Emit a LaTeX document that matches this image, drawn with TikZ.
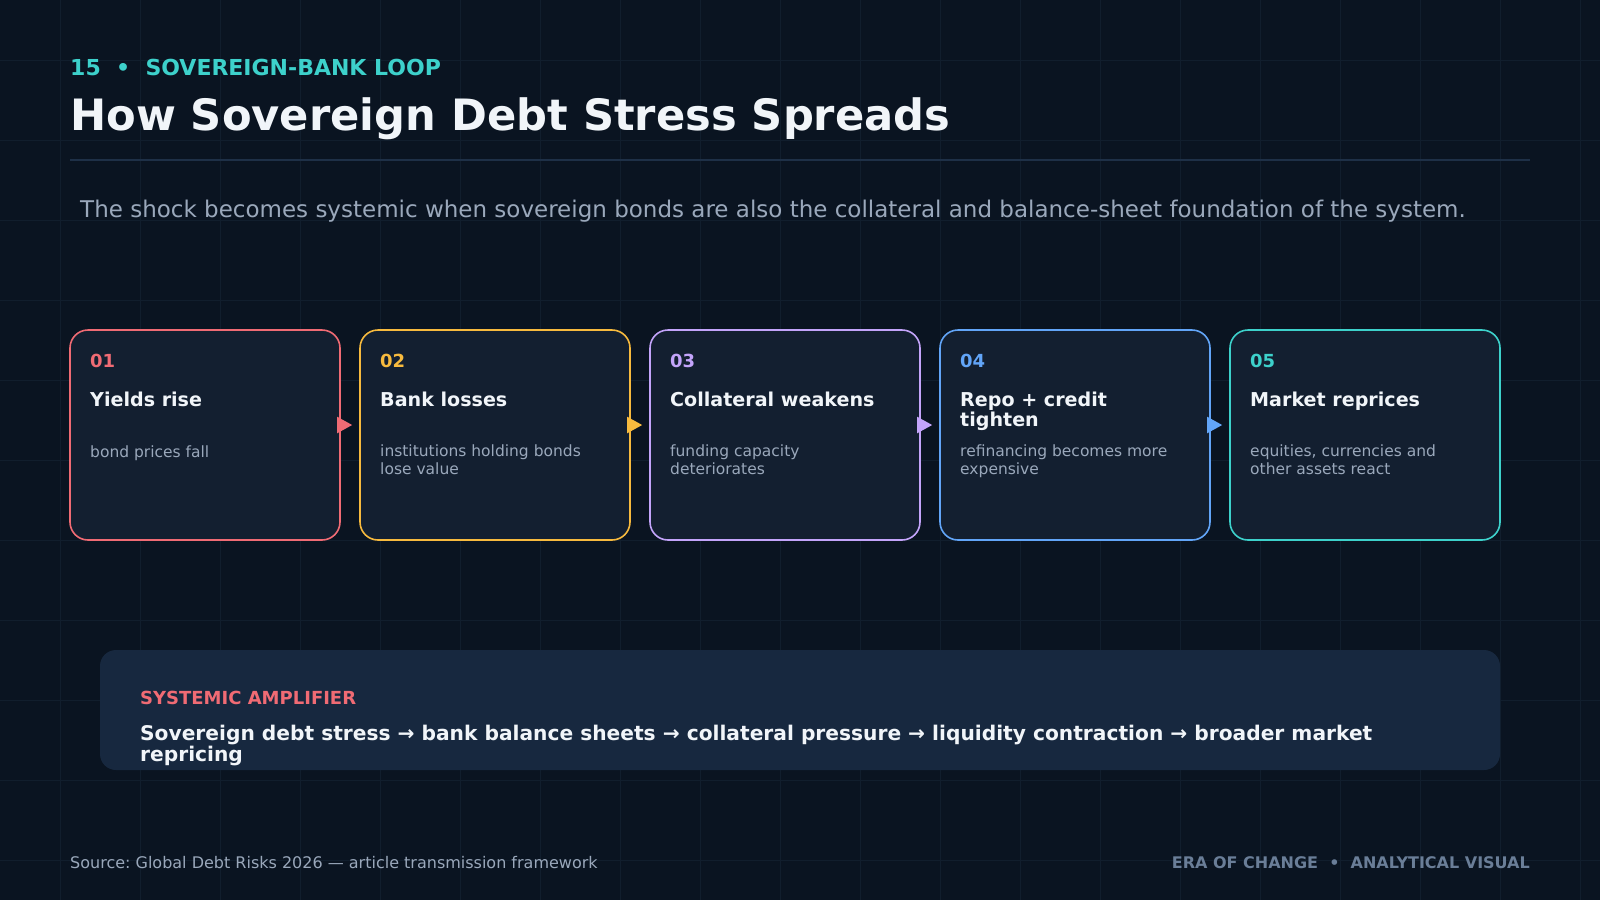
\documentclass[tikz,border=0pt]{standalone}
\usepackage{fontspec}
\setmainfont{DejaVu Sans}
\usetikzlibrary{positioning, arrows.meta}
\definecolor{bgnavy}{HTML}{0A1421}
\definecolor{gridnavy}{HTML}{111E2D}
\definecolor{cardfill}{HTML}{131F30}
\definecolor{panelfill}{HTML}{17283F}
\definecolor{rulenavy}{HTML}{1E3047}
\definecolor{inkwhite}{HTML}{F1F5F9}
\definecolor{inkgray}{HTML}{9AA8BB}
\definecolor{inkmuted}{HTML}{6A7E98}
\definecolor{accred}{HTML}{F06B74}
\definecolor{accamber}{HTML}{F7BA3E}
\definecolor{accviolet}{HTML}{C3A4FA}
\definecolor{accblue}{HTML}{62A5F8}
\definecolor{accteal}{HTML}{3DD1CB}
\tikzset{
    gridline/.style={draw=gridnavy, line width=1pt},
    card/.style={rectangle, draw, line width=1.6pt, fill=cardfill, rounded corners=18pt, minimum width=270pt, minimum height=210pt},
    card num/.style={anchor=base west, inner sep=0pt, font=\bfseries\fontsize{18}{22}\selectfont},
    card title/.style={anchor=north west, inner sep=0pt, align=left, text=inkwhite, font=\bfseries\fontsize{19.1}{20}\selectfont, execute at begin node=\strut},
    card desc/.style={anchor=north west, inner sep=0pt, align=left, text=inkgray, font=\fontsize{15.5}{18}\selectfont, execute at begin node=\strut},
    flow/.style={draw=#1, fill=#1, line width=2pt, -{Triangle[length=15pt, width=16pt]}, shorten >=7pt},
    panel/.style={rectangle, fill=panelfill, rounded corners=16pt, minimum width=1400pt, minimum height=120pt},
    plain text/.style={anchor=base west, inner sep=0pt},
}
\newcommand{\drawcard}[6]{
    \node[card, draw=#3] (#1) at (#2+135,435) {};
    \node[card num, text=#3] (#1num) at (#2+20,367) {#4};
    \node[card title] (#1title) at (#2+20,392) {#5};
    \node[card desc] (#1desc) at (#2+20,444.4) {#6};
}

\begin{document}
\frenchspacing
\begin{tikzpicture}[x=1pt, y=-1pt]
    \useasboundingbox (0,0) rectangle (1600,900);
    \fill[bgnavy] (0,0) rectangle (1600,900);
    \foreach \gx in {60,140,...,1580}
        \draw[gridline] (\gx,0) -- (\gx,900);
    \foreach \gy in {60,140,...,860}
        \draw[gridline] (0,\gy) -- (1600,\gy);

    \node[plain text, text=accteal, font=\bfseries\fontsize{22}{26}\selectfont] (kicker) at (70,75) {15~~•~~SOVEREIGN-BANK LOOP};
    \node[plain text, text=inkwhite, font=\bfseries\fontsize{43.2}{50}\selectfont] (title) at (70,130) {How Sovereign Debt Stress Spreads};
    \draw[rulenavy, line width=2pt] (70,160) -- (1530,160);
    \node[plain text, text=inkgray, font=\fontsize{23}{27}\selectfont] (lede) at (80,217) {The shock becomes systemic when sovereign bonds are also the collateral and balance-sheet foundation of the system.};

    \drawcard{b1}{70}{accred}{01}{Yields rise}{bond prices fall}
    \drawcard{b2}{360}{accamber}{02}{Bank losses}{institutions holding bonds\\lose value}
    \drawcard{b3}{650}{accviolet}{03}{Collateral weakens}{funding capacity\\deteriorates}
    \drawcard{b4}{940}{accblue}{04}{Repo + credit\\tighten}{refinancing becomes more\\expensive}
    \drawcard{b5}{1230}{accteal}{05}{Market reprices}{equities, currencies and\\other assets react}

    \draw[flow=accred] ([yshift=10pt]b1.east) -- ([yshift=10pt]b2.west);
    \draw[flow=accamber] ([yshift=10pt]b2.east) -- ([yshift=10pt]b3.west);
    \draw[flow=accviolet] ([yshift=10pt]b3.east) -- ([yshift=10pt]b4.west);
    \draw[flow=accblue] ([yshift=10pt]b4.east) -- ([yshift=10pt]b5.west);

    \node[panel] (amp) at (800,710) {};
    \node[plain text, text=accred, font=\bfseries\fontsize{18}{22}\selectfont] (ampLabel) at (140,704) {SYSTEMIC AMPLIFIER};
    \node[anchor=north west, inner sep=0pt, align=left, text=inkwhite, font=\bfseries\fontsize{20.2}{21.4}\selectfont, execute at begin node=\strut] (ampText) at (140,725) {Sovereign debt stress → bank balance sheets → collateral pressure → liquidity contraction → broader market\\repricing};

    \node[plain text, text=inkgray, font=\fontsize{16}{19}\selectfont] (source) at (70,868) {Source: Global Debt Risks 2026 — article transmission framework};
    \node[anchor=base east, inner sep=0pt, text=inkmuted, font=\bfseries\fontsize{16}{19}\selectfont] (brand) at (1530,868) {ERA OF CHANGE~~•~~ANALYTICAL VISUAL};
\end{tikzpicture}
\end{document}
